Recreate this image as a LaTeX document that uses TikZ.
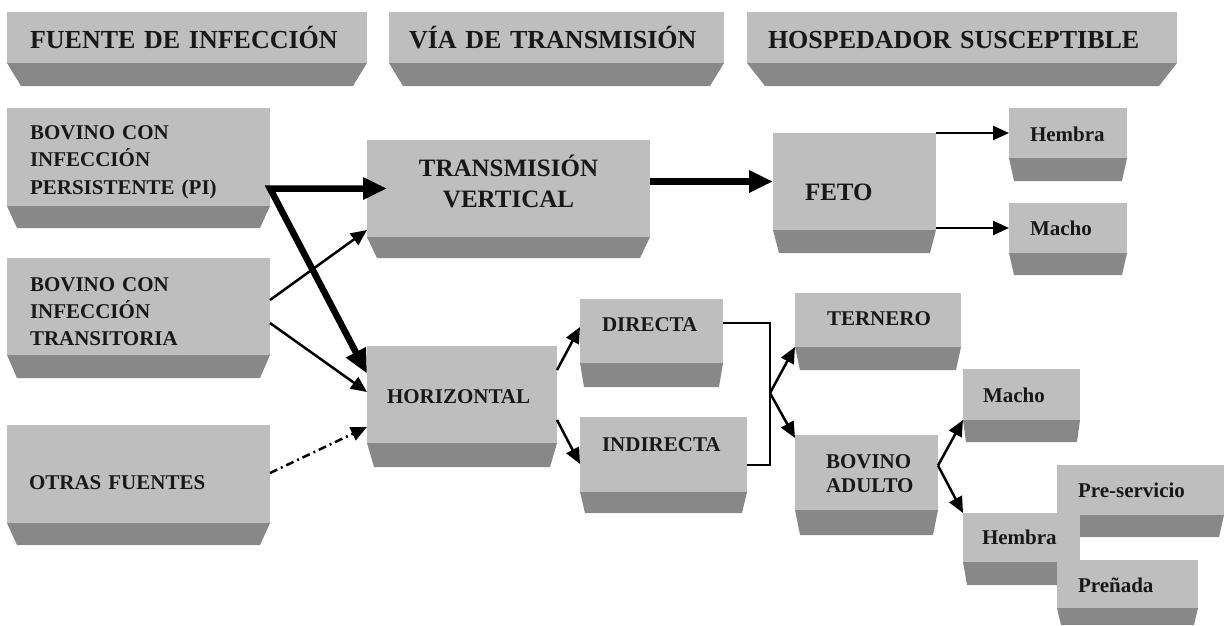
\documentclass[tikz,border=0pt]{standalone}
\usepackage{fontspec}
\setmainfont{Liberation Serif}
\usetikzlibrary{arrows.meta}

\definecolor{cara}{RGB}{190,190,190}
\definecolor{bisel}{RGB}{136,136,136}
\definecolor{tinta}{RGB}{24,24,24}

% zocalo oscuro bajo cada caja: nombre, alto, margen
\newcommand{\zocalo}[3]{%
  \fill[bisel] (#1.south west) -- (#1.south east) -- ([shift={(-#3,#2)}]#1.south east) -- ([shift={(#3,#2)}]#1.south west) -- cycle;}

\tikzset{
  caja/.style={fill=cara, text=tinta, anchor=north west, inner ysep=0pt, outer sep=0pt,
    align=left, font=\bfseries\fontsize{21}{27}\selectfont},
  medidas/.style n args={4}{inner xsep=#1pt, text width=#2pt, text height=#3pt, text depth=#4pt},
  gorda/.tip={Triangle[length=24pt,width=21pt]},
  finita/.tip={Triangle[length=16pt,width=14pt]},
  gruesa/.style={line width=6.5pt, -gorda},
  fina/.style={line width=2.5pt, -finita},
}

\begin{document}
\begin{tikzpicture}[x=1pt,y=-1pt]
\useasboundingbox (0,0) rectangle (1225,625);
%\draw[step=50,gray,very thin] (0,0) grid (1225,625);

% encabezados
\node[caja, font=\bfseries\fontsize{26}{31}\selectfont, medidas={23}{314}{36}{15}] (fuente) at (7,12) {FUENTE DE INFECCIÓN};
\zocalo{fuente}{23}{14}
\node[caja, font=\bfseries\fontsize{26}{31}\selectfont, medidas={20}{295}{36}{15}] (via) at (389,12) {VÍA DE TRANSMISIÓN};
\zocalo{via}{23}{14}
\node[caja, font=\bfseries\fontsize{26}{31}\selectfont, medidas={21}{388}{36}{15}] (hosp) at (747,12) {HOSPEDADOR SUSCEPTIBLE};
\zocalo{hosp}{23}{18}

% fuentes
\node[caja, font=\bfseries\fontsize{21}{27.5}\selectfont, medidas={23}{217}{31}{67}] (pi) at (7,108) {BOVINO CON\\INFECCIÓN\\PERSISTENTE (PI)};
\zocalo{pi}{22}{10}
\node[caja, medidas={23}{217}{33}{64}] (tr) at (7,258) {BOVINO CON\\INFECCIÓN\\TRANSITORIA};
\zocalo{tr}{23}{10}
\node[caja, medidas={22}{219}{64}{34}] (otras) at (7,425) {OTRAS FUENTES};
\zocalo{otras}{22}{10}

% vias
\node[caja, align=center, font=\bfseries\fontsize{25}{31}\selectfont, medidas={10}{263}{36}{61}] (tv) at (367,140) {TRANSMISIÓN\\VERTICAL};
\zocalo{tv}{21}{10}
\node[caja, medidas={20}{150}{57}{40}] (hor) at (367,346) {HORIZONTAL};
\zocalo{hor}{24}{7}
\node[caja, medidas={22}{99}{32}{32}] (directa) at (580,299) {DIRECTA};
\zocalo{directa}{24}{4}
\node[caja, medidas={22}{123}{34}{41}] (indirecta) at (580,417) {INDIRECTA};
\zocalo{indirecta}{21}{5}

% hospedadores
\node[caja, font=\bfseries\fontsize{25}{31}\selectfont, medidas={32}{99}{67}{30}] (feto) at (773,133) {FETO};
\zocalo{feto}{23}{6}
\node[caja, medidas={21}{76}{33}{17}] (hembra1) at (1009,108) {Hembra};
\zocalo{hembra1}{23}{5}
\node[caja, medidas={21}{76}{32}{18}] (macho1) at (1009,203) {Macho};
\zocalo{macho1}{22}{5}
\node[caja, medidas={32}{102}{32}{22}] (ternero) at (795,293) {TERNERO};
\zocalo{ternero}{23}{5}
\node[caja, font=\bfseries\fontsize{21}{24}\selectfont, medidas={31}{81}{33}{42}] (adulto) at (795,435) {BOVINO\\ADULTO};
\zocalo{adulto}{25}{5}
\node[caja, medidas={20}{77}{33}{18}] (macho2) at (963,369) {Macho};
\zocalo{macho2}{22}{3}
\node[caja, medidas={21}{125}{32}{18}] (preserv) at (1057,465) {Pre-servicio};
\zocalo{preserv}{22}{5}
\node[caja, medidas={19}{79}{31}{18}] (hembra2) at (963,513) {Hembra};
\zocalo{hembra2}{23}{4}
\node[caja, medidas={21}{99}{32}{16}] (prenada) at (1057,560) {Preñada};
\zocalo{prenada}{17}{4}

% flechas
\coordinate (esquina) at (pi.east |- tv.west);
\draw[gruesa, gorda-gorda, line join=miter] ([yshift=21pt]hor.west) -- (esquina) -- ([xshift=20pt]tv.west);
\draw[fina] ([yshift=6.5pt]tr.east) -- ([yshift=7pt]tv.south west);
\draw[fina] ([yshift=-16.5pt]tr.east) -- ([yshift=2.5pt]hor.west);
\draw[fina, dash pattern=on 8pt off 4pt on 2pt off 4pt] ([yshift=1pt]otras.east) -- ([yshift=16pt]hor.south west);

\draw[gruesa] (tv.east |- feto.west) -- (feto.west);
\draw[fina] (feto.east |- hembra1.west) -- (hembra1.west);
\draw[fina] (feto.east |- macho1.west) -- (macho1.west);

\draw[fina] ([yshift=24.5pt]hor.east) -- ([yshift=4pt]directa.west);
\draw[fina] ([yshift=-25.5pt]hor.east) -- ([yshift=-9.5pt]indirecta.west);

\coordinate (union) at (770,393);
\draw[line width=2.8pt] ([yshift=8pt]directa.east) -| (union) |- ([yshift=-10.5pt]indirecta.east);
\draw[fina] (union) -- (ternero.south west);
\draw[fina] (union) -- ([yshift=-3pt]adulto.north west);

\draw[fina] ([yshift=7pt]adulto.east) -- (macho2.south west);
\draw[fina] ([yshift=7pt]adulto.east) -- (hembra2.north west);
\end{tikzpicture}
\end{document}
